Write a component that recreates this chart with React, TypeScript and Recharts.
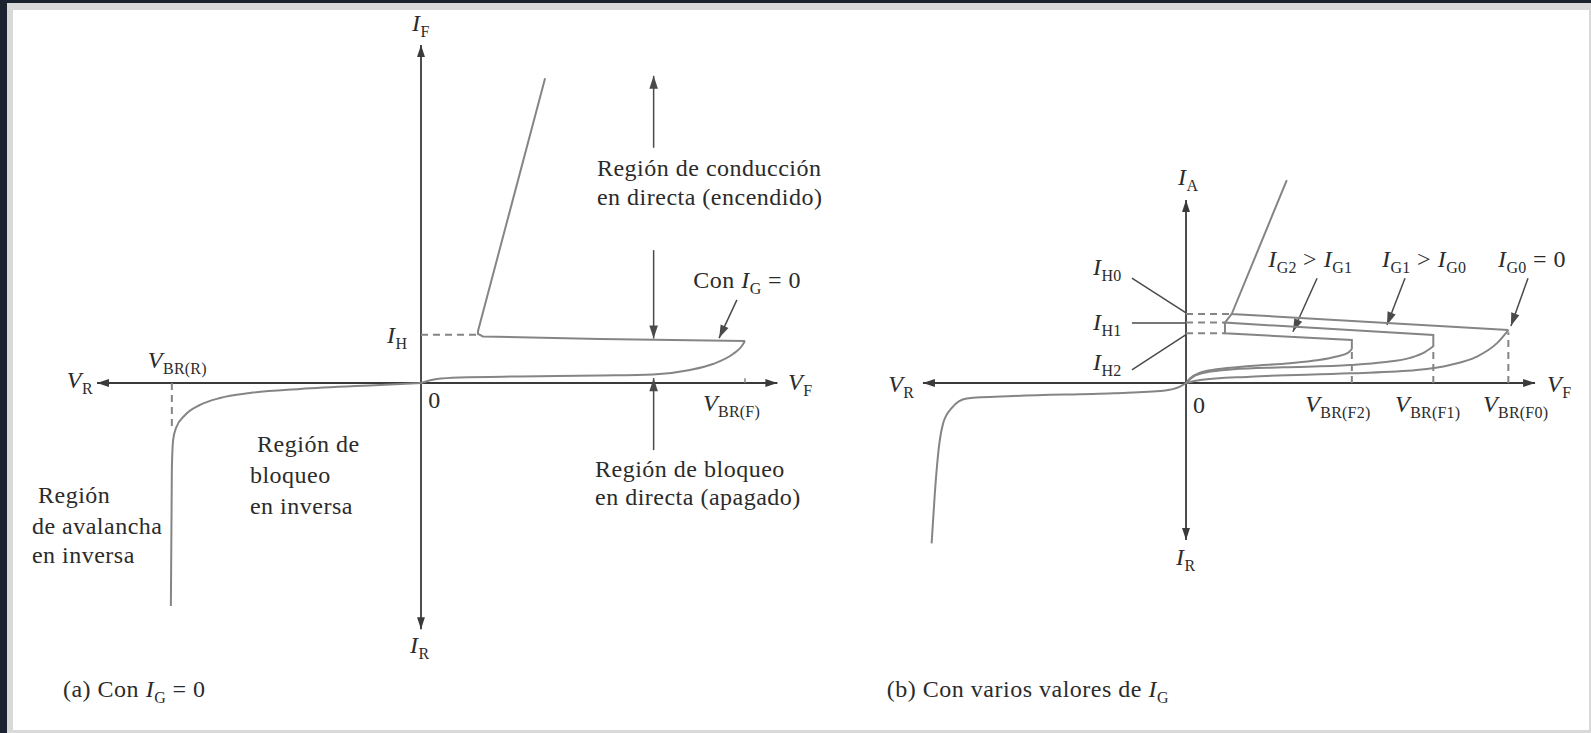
import React from 'react';
import { LineChart, Line, XAxis, YAxis, ReferenceLine, ReferenceDot } from 'recharts';

type Pt = { v: number; i: number };
type Part = [string, 'it' | 'rm' | 'sub'];
type Lbl = { v: number; i: number; parts: Part[] };
type Seg = { from: Pt; to: Pt };

const INK = '#2b2b2b';
const CURVE = '#858585';
const AXIS = '#3a3a3a';
const SERIF = "'Liberation Serif', 'Times New Roman', serif";

// ---------- (a) Con IG = 0 ----------
const bloqueoDirectaA: Pt[] = [
  { v: 0, i: 0 }, { v: 4.9, i: 0.83 }, { v: 12.0, i: 1.14 }, { v: 30.6, i: 1.35 },
  { v: 55.2, i: 1.55 }, { v: 71.6, i: 1.76 }, { v: 83.0, i: 2.69 }, { v: 90.1, i: 3.93 },
  { v: 96.3, i: 6.0 }, { v: 98.8, i: 7.45 }, { v: 100, i: 8.7 },
];
const encendidoA: Pt[] = [
  { v: 100, i: 8.7 }, { v: 55.2, i: 9.11 }, { v: 19.1, i: 9.63 }, { v: 17.6, i: 10.14 },
  { v: 17.6, i: 10.77 }, { v: 38.3, i: 63.1 },
];
const inversaA: Pt[] = [
  { v: -77.2, i: -46.2 }, { v: -76.9, i: -18 }, { v: -76.5, i: -11.8 }, { v: -75.6, i: -9.3 },
  { v: -72.8, i: -6.63 }, { v: -68.2, i: -4.55 }, { v: -62.0, i: -3.1 }, { v: -52.8, i: -2.07 },
  { v: -37.3, i: -1.24 }, { v: -12.7, i: -0.41 }, { v: 0, i: 0 },
];
const ejeVA: [number, number] = [-100, 110];
const ejeIA: [number, number] = [-51, 70];
const dashesA: Seg[] = [
  { from: { v: 0, i: 10 }, to: { v: 17.6, i: 10 } },
  { from: { v: -76.9, i: 0 }, to: { v: -76.9, i: -9.7 } },
];
const ticksA: Seg[] = [{ from: { v: 100, i: 0 }, to: { v: 100, i: 1.0 } }];
const arrowsA: Seg[] = [
  { from: { v: 71.8, i: 48.7 }, to: { v: 71.8, i: 63.6 } },
  { from: { v: 71.8, i: 27.5 }, to: { v: 71.8, i: 9.2 } },
  { from: { v: 71.8, i: -13.9 }, to: { v: 71.8, i: 1.0 } },
  { from: { v: 97.5, i: 17.2 }, to: { v: 92.0, i: 9.3 } },
];
const labelsA: Lbl[] = [
  { v: -2.8, i: 72.9, parts: [['I', 'it'], ['F', 'sub']] },
  { v: -3.4, i: -55.9, parts: [['I', 'it'], ['R', 'sub']] },
  { v: -109.3, i: -1.0, parts: [['V', 'it'], ['R', 'sub']] },
  { v: 113.3, i: -1.45, parts: [['V', 'it'], ['F', 'sub']] },
  { v: 2.2, i: -5.2, parts: [['0', 'rm']] },
  { v: -84.3, i: 3.1, parts: [['V', 'it'], ['BR(R)', 'sub']] },
  { v: 87.0, i: -5.8, parts: [['V', 'it'], ['BR(F)', 'sub']] },
  { v: -10.5, i: 8.3, parts: [['I', 'it'], ['H', 'sub']] },
  { v: 54.3, i: 42.9, parts: [['Región de conducción', 'rm']] },
  { v: 54.3, i: 36.9, parts: [['en directa (encendido)', 'rm']] },
  { v: 84.0, i: 19.7, parts: [['Con ', 'rm'], ['I', 'it'], ['G', 'sub'], [' = 0', 'rm']] },
  { v: 53.7, i: -19.5, parts: [['Región de bloqueo', 'rm']] },
  { v: 53.7, i: -25.3, parts: [['en directa (apagado)', 'rm']] },
  { v: -50.6, i: -14.3, parts: [['Región de', 'rm']] },
  { v: -52.8, i: -20.7, parts: [['bloqueo', 'rm']] },
  { v: -52.8, i: -27.1, parts: [['en inversa', 'rm']] },
  { v: -118.2, i: -24.8, parts: [['Región', 'rm']] },
  { v: -120.1, i: -31.3, parts: [['de avalancha', 'rm']] },
  { v: -120.1, i: -37.3, parts: [['en inversa', 'rm']] },
  { v: -110.5, i: -65.0, parts: [['(a) Con ', 'rm'], ['I', 'it'], ['G', 'sub'], [' = 0', 'rm']] },
];

// ---------- (b) Con varios valores de IG ----------
const directaG0: Pt[] = [
  { v: 0, i: 0 }, { v: 4.35, i: 0.62 }, { v: 19.9, i: 1.31 }, { v: 50.9, i: 2.0 },
  { v: 71.6, i: 2.69 }, { v: 82.0, i: 3.73 }, { v: 90.3, i: 5.45 }, { v: 96.5, i: 8.2 },
  { v: 100.1, i: 10.97 },
];
const retornoG0: Pt[] = [{ v: 100.1, i: 10.97 }, { v: 14.2, i: 14.29 }, { v: 31.3, i: 42.0 }];
const directaG1: Pt[] = [
  { v: 0, i: 0 }, { v: 2.28, i: 1.31 }, { v: 6.42, i: 2.21 }, { v: 14.7, i: 2.83 },
  { v: 30.2, i: 3.24 }, { v: 50.9, i: 3.73 }, { v: 61.3, i: 4.3 }, { v: 69.6, i: 5.2 },
  { v: 74.2, i: 6.4 }, { v: 76.8, i: 7.6 },
];
const retornoG1: Pt[] = [{ v: 76.8, i: 7.6 }, { v: 76.8, i: 9.94 }, { v: 12.1, i: 12.5 }, { v: 14.2, i: 14.29 }];
const directaG2: Pt[] = [
  { v: 0, i: 0 }, { v: 1.24, i: 0.96 }, { v: 4.35, i: 2.14 }, { v: 9.5, i: 2.83 },
  { v: 19.9, i: 3.52 }, { v: 32.3, i: 4.1 }, { v: 40.6, i: 4.7 }, { v: 46.8, i: 5.5 },
  { v: 50.4, i: 6.3 }, { v: 51.5, i: 7.0 },
];
const retornoG2: Pt[] = [{ v: 51.5, i: 7.0 }, { v: 51.5, i: 8.9 }, { v: 12.1, i: 10.3 }, { v: 12.1, i: 12.5 }];
const inversaB: Pt[] = [
  { v: -79.0, i: -33.2 }, { v: -78.0, i: -22.8 }, { v: -76.6, i: -12.5 }, { v: -75.4, i: -8.3 },
  { v: -72.8, i: -5.2 }, { v: -68.1, i: -3.2 }, { v: -53.6, i: -2.7 }, { v: -22.6, i: -2.1 },
  { v: -7.0, i: -1.6 }, { v: -1.9, i: -0.77 }, { v: 0, i: 0 },
];
const ejeVB: [number, number] = [-81.7, 108.4];
const ejeIB: [number, number] = [-32.5, 37.9];
const dashesB: Seg[] = [
  { from: { v: 0, i: 14.29 }, to: { v: 14.2, i: 14.29 } },
  { from: { v: 0, i: 12.5 }, to: { v: 12.1, i: 12.5 } },
  { from: { v: 0, i: 10.3 }, to: { v: 12.1, i: 10.3 } },
  { from: { v: 51.5, i: 0 }, to: { v: 51.5, i: 7.0 } },
  { from: { v: 76.8, i: 0 }, to: { v: 76.8, i: 7.6 } },
  { from: { v: 100.1, i: 0 }, to: { v: 100.1, i: 10.5 } },
];
const leadersB: Seg[] = [
  { from: { v: -16.8, i: 21.7 }, to: { v: 0, i: 14.5 } },
  { from: { v: -16.8, i: 12.4 }, to: { v: 0, i: 12.4 } },
  { from: { v: -16.8, i: 2.7 }, to: { v: 0, i: 10.0 } },
];
const arrowsB: Seg[] = [
  { from: { v: 40.7, i: 21.7 }, to: { v: 33.2, i: 10.6 } },
  { from: { v: 68.0, i: 21.7 }, to: { v: 62.4, i: 12.0 } },
  { from: { v: 106.2, i: 21.7 }, to: { v: 100.9, i: 11.8 } },
];
const labelsB: Lbl[] = [
  { v: -2.5, i: 41.0, parts: [['I', 'it'], ['A', 'sub']] },
  { v: -3.1, i: -37.7, parts: [['I', 'it'], ['R', 'sub']] },
  { v: -92.5, i: -1.9, parts: [['V', 'it'], ['R', 'sub']] },
  { v: 112.1, i: -1.9, parts: [['V', 'it'], ['F', 'sub']] },
  { v: 2.2, i: -6.2, parts: [['0', 'rm']] },
  { v: 37.0, i: -6.0, parts: [['V', 'it'], ['BR(F2)', 'sub']] },
  { v: 64.9, i: -6.0, parts: [['V', 'it'], ['BR(F1)', 'sub']] },
  { v: 92.2, i: -6.0, parts: [['V', 'it'], ['BR(F0)', 'sub']] },
  { v: 25.5, i: 24.0, parts: [['I', 'it'], ['G2', 'sub'], [' > ', 'rm'], ['I', 'it'], ['G1', 'sub']] },
  { v: 60.9, i: 24.0, parts: [['I', 'it'], ['G1', 'sub'], [' > ', 'rm'], ['I', 'it'], ['G0', 'sub']] },
  { v: 96.9, i: 24.0, parts: [['I', 'it'], ['G0', 'sub'], [' = 0', 'rm']] },
  { v: -28.9, i: 22.4, parts: [['I', 'it'], ['H0', 'sub']] },
  { v: -28.9, i: 11.0, parts: [['I', 'it'], ['H1', 'sub']] },
  { v: -28.9, i: 2.7, parts: [['I', 'it'], ['H2', 'sub']] },
  { v: -92.9, i: -65.0, parts: [['(b) Con varios valores de ', 'rm'], ['I', 'it'], ['G', 'sub']] },
];

// text with italic symbols and lowered subscripts
const RichText = ({ cx, cy, parts }: { cx: number; cy: number; parts: Part[] }) => {
  let shift = 0;
  return (
    <text x={cx} y={cy} fontFamily={SERIF} fontSize={24} fill={INK} letterSpacing={0.5}>
      {parts.map(([t, kind], k) => {
        const target = kind === 'sub' ? 6 : 0;
        const dy = target - shift;
        shift = target;
        return (
          <tspan key={k} dy={dy} fontStyle={kind === 'it' ? 'italic' : 'normal'}
            fontSize={kind === 'sub' ? 16 : 24} letterSpacing={kind === 'sub' ? 0.2 : 0.5}>
            {t}
          </tspan>
        );
      })}
    </text>
  );
};

// straight segment with optional triangular heads
const segShape = (heads: 'none' | 'end' | 'both', color: string, width: number, dash?: string, size = 12) =>
  (p: any) => {
    const { x1, y1, x2, y2 } = p;
    const len = Math.hypot(x2 - x1, y2 - y1) || 1;
    const dx = (x2 - x1) / len;
    const dy = (y2 - y1) / len;
    const head = (tx: number, ty: number, ux: number, uy: number) => {
      const bx = tx - ux * size;
      const by = ty - uy * size;
      const hw = size * 0.33;
      return `${tx},${ty} ${bx - uy * hw},${by + ux * hw} ${bx + uy * hw},${by - ux * hw}`;
    };
    return (
      <g>
        <line x1={x1} y1={y1} x2={x2} y2={y2} stroke={color} strokeWidth={width} strokeDasharray={dash} />
        {heads !== 'none' && <polygon points={head(x2, y2, dx, dy)} fill={color} />}
        {heads === 'both' && <polygon points={head(x1, y1, -dx, -dy)} fill={color} />}
      </g>
    );
  };

const segLines = (segs: Seg[], shape: (p: any) => React.ReactElement, key: string) =>
  segs.map((s, k) => (
    <ReferenceLine key={`${key}${k}`} ifOverflow="visible"
      segment={[{ x: s.from.v, y: s.from.i }, { x: s.to.v, y: s.to.i }]}
      shape={shape} />
  ));

const labelDots = (lbls: Lbl[], key: string) =>
  lbls.map((l, k) => (
    <ReferenceDot key={`${key}${k}`} x={l.v} y={l.i} r={0} ifOverflow="visible"
      shape={(p: any) => <RichText cx={p.cx} cy={p.cy} parts={l.parts} />} />
  ));

const curve = (data: Pt[], type: 'monotone' | 'linear', key: string) => (
  <Line key={key} data={data} dataKey="i" type={type} stroke={CURVE} strokeWidth={2}
    dot={false} isAnimationActive={false} />
);

const PanelA = () => (
  <LineChart width={1591} height={733} style={{ overflow: 'visible' }}
    margin={{ top: 44.9, right: 813.6, bottom: 103.7, left: 97 }}>
    <XAxis type="number" dataKey="v" domain={ejeVA} hide />
    <YAxis type="number" dataKey="i" domain={ejeIA} hide />
    {segLines([{ from: { v: ejeVA[0], i: 0 }, to: { v: ejeVA[1], i: 0 } }], segShape('both', AXIS, 1.8), 'ax')}
    {segLines([{ from: { v: 0, i: ejeIA[0] }, to: { v: 0, i: ejeIA[1] } }], segShape('both', AXIS, 1.8), 'ay')}
    {segLines(dashesA, segShape('none', CURVE, 2, '7 5'), 'd')}
    {segLines(ticksA, segShape('none', CURVE, 1.5), 't')}
    {segLines(arrowsA, segShape('end', '#4a4a4a', 1.5, undefined, 13), 'r')}
    {curve(bloqueoDirectaA, 'monotone', 'c1')}
    {curve(encendidoA, 'linear', 'c2')}
    {curve(inversaA, 'monotone', 'c3')}
    {labelDots(labelsA, 'l')}
  </LineChart>
);

const PanelB = () => (
  <LineChart width={791} height={733} style={{ overflow: 'visible' }}
    margin={{ top: 165.65, right: 55.6, bottom: 185.8, left: 121.96 }}>
    <XAxis type="number" dataKey="v" domain={[-82, 108.5]} hide />
    <YAxis type="number" dataKey="i" domain={[-34, 45]} hide />
    {segLines([{ from: { v: ejeVB[0], i: 0 }, to: { v: ejeVB[1], i: 0 } }], segShape('both', AXIS, 1.8), 'ax')}
    {segLines([{ from: { v: 0, i: ejeIB[0] }, to: { v: 0, i: ejeIB[1] } }], segShape('both', AXIS, 1.8), 'ay')}
    {segLines(dashesB, segShape('none', CURVE, 2, '7 5'), 'd')}
    {segLines(leadersB, segShape('none', '#4a4a4a', 1.5), 'h')}
    {segLines(arrowsB, segShape('end', '#4a4a4a', 1.5, undefined, 13), 'r')}
    {curve(directaG0, 'monotone', 'g0')}
    {curve(retornoG0, 'linear', 'r0')}
    {curve(directaG1, 'monotone', 'g1')}
    {curve(retornoG1, 'linear', 'r1')}
    {curve(directaG2, 'monotone', 'g2')}
    {curve(retornoG2, 'linear', 'r2')}
    {curve(inversaB, 'monotone', 'inv')}
    {labelDots(labelsB, 'l')}
  </LineChart>
);

export default function App() {
  return (
    <div style={{ position: 'absolute', left: 0, top: 0, width: 1591, height: 733, background: '#1b2230', overflow: 'hidden' }}>
      <div style={{ position: 'absolute', left: 7, top: 3, width: 1584, height: 730, background: '#d9d9d9' }} />
      <div style={{ position: 'absolute', left: 13, top: 10, width: 1576, height: 720, background: '#ffffff' }} />
      <div style={{ position: 'absolute', left: 0, top: 0 }}>
        <PanelA />
      </div>
      <div style={{ position: 'absolute', left: 800, top: 0 }}>
        <PanelB />
      </div>
    </div>
  );
}
